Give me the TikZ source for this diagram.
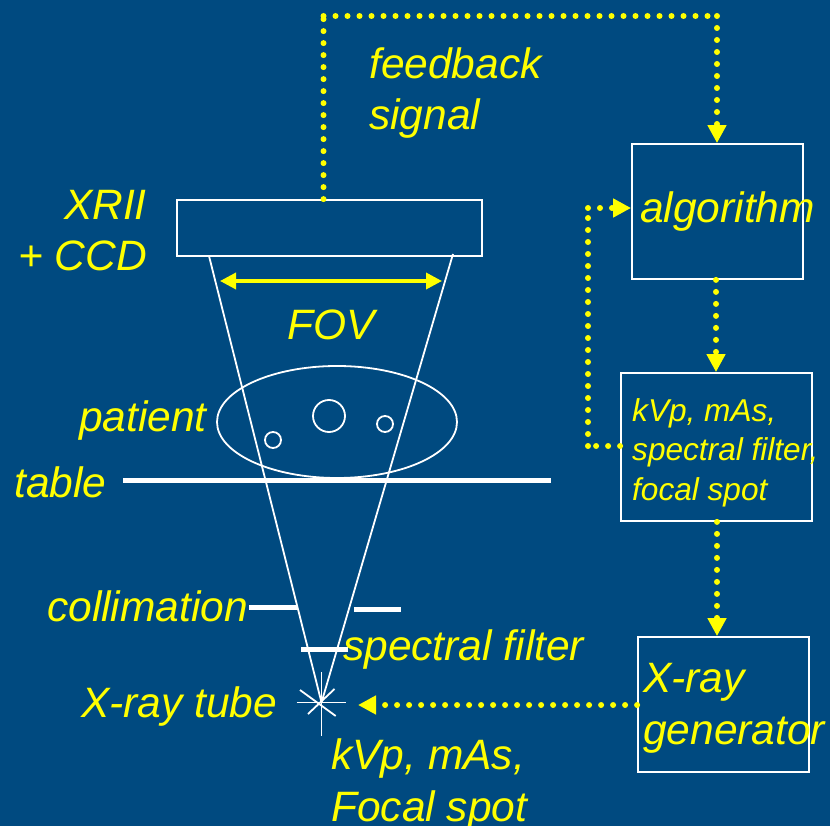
\documentclass[tikz,border=0pt]{standalone}
\usepackage{fontspec}
\setmainfont{Liberation Sans}
\usetikzlibrary{arrows.meta}
\definecolor{bgblue}{HTML}{004A80}
\definecolor{sigyellow}{HTML}{FFFF00}
\tikzset{
  boxn/.style={draw=white,line width=1.8pt,inner sep=0pt,rectangle},
  lab/.style={text=sigyellow,inner sep=0pt,anchor=base west,font=\fontsize{42.5}{51.5}\selectfont\itshape,align=left},
  labr/.style={lab,anchor=base east,align=right},
  smalllab/.style={lab,font=\fontsize{31.6}{39.5}\selectfont\itshape},
  sigline/.style={draw=sigyellow,line width=6pt,line cap=round,dash pattern=on 0pt off 12pt},
  sig/.style={sigline,-{Triangle[length=18pt,width=18pt,fill=sigyellow]}},
  bar/.style={draw=white,line width=5pt},
  ray/.style={draw=white,line width=1.8pt},
  fovarrow/.style={draw=sigyellow,line width=3.5pt,{Triangle[length=16pt,width=16pt,fill=sigyellow]}-{Triangle[length=16pt,width=16pt,fill=sigyellow]}},
}
\begin{document}
\begin{tikzpicture}[x=1pt,y=-1pt]
\fill[bgblue] (0,0) rectangle (830,826);
\useasboundingbox (0,0) rectangle (830,826);
% boxes
\node[boxn,minimum width=305pt,minimum height=56pt] (det) at (329.5,228) {};
\node[boxn,minimum width=171pt,minimum height=135pt] (algo) at (717.5,211.5) {};
\node[boxn,minimum width=191pt,minimum height=148pt] (params) at (716.5,447) {};
\node[boxn,minimum width=171pt,minimum height=135pt] (gen) at (723.5,704.5) {};
% patient
\draw[ray] (337,422) ellipse [x radius=120,y radius=56];
\draw[ray] (329,416) circle [radius=16];
\draw[ray] (273,440) circle [radius=8];
\draw[ray] (385,424) circle [radius=8];
% star and rays
\coordinate (focus) at (321.5,702.5);
\coordinate (rayL) at (209,256);
\coordinate (rayR) at (453,254);
\draw[ray] (focus) -- (rayL);
\draw[ray] (focus) -- (rayR);
\draw[ray] (296.5,702.5) -- (345.7,702.5);
\draw[ray] (321.5,672) -- (321.5,736);
\draw[ray] (300,690) -- (335.7,716);
\draw[ray] (308,714) -- (334.5,689);
% bars
\draw[bar] (123,480) -- (551,480);
\draw[bar] (249,607.5) -- (297,607.5);
\draw[bar] (354,609.5) -- (401,609.5);
\draw[bar] (301,649) -- (348,649);
% FOV
\draw[fovarrow] (220,281) -- (442,281);
% connectors
\coordinate (fbTop) at (323.5,16);
\coordinate (fbRight) at (717,16);
\coordinate (colA) at (716,0);
\coordinate (colB) at (717,0);
\coordinate (tubeIn) at (358,705);
\coordinate (loopB) at (588,446);
\coordinate (loopT) at (588,208);
\draw[sigline] (det.north -| fbTop) -- (fbTop);
\draw[sigline] (fbTop) -- (fbRight);
\draw[sig] (fbRight) -- (algo.north -| fbRight);
\draw[sig] (algo.south -| colA) -- (params.north -| colA);
\draw[sig] (params.south -| colB) -- (gen.north -| colB);
\draw[sig] (gen.west |- tubeIn) -- (tubeIn);
\draw[sigline] (params.west |- loopB) -- (loopB);
\draw[sigline] (loopB) -- (loopT);
\draw[sig] (loopT) -- (algo.west |- loopT);
% labels
\node[lab] (tfb) at (369,130) {feedback\\signal};
\node[labr] (txr) at (147,271) {XRII\\+ CCD};
\node[lab] (tfov) at (287,339) {FOV};
\node[lab] (tpat) at (79,431) {patient};
\node[lab] (ttab) at (14,497) {table};
\node[lab] (tcol) at (47,621) {collimation};
\node[lab] (tspf) at (343,660) {spectral filter};
\node[lab] (ttube) at (81,717) {X-ray tube};
\node[lab] (tkv) at (331,821) {kVp, mAs,\\Focal spot};
\node[lab] (talg) at (640,223) {algorithm};
\node[lab] (tgen) at (643,744) {X-ray\\generator};
\node[smalllab] (tpar) at (632,500) {kVp, mAs,\\spectral filter,\\focal spot};
\end{tikzpicture}
\end{document}
